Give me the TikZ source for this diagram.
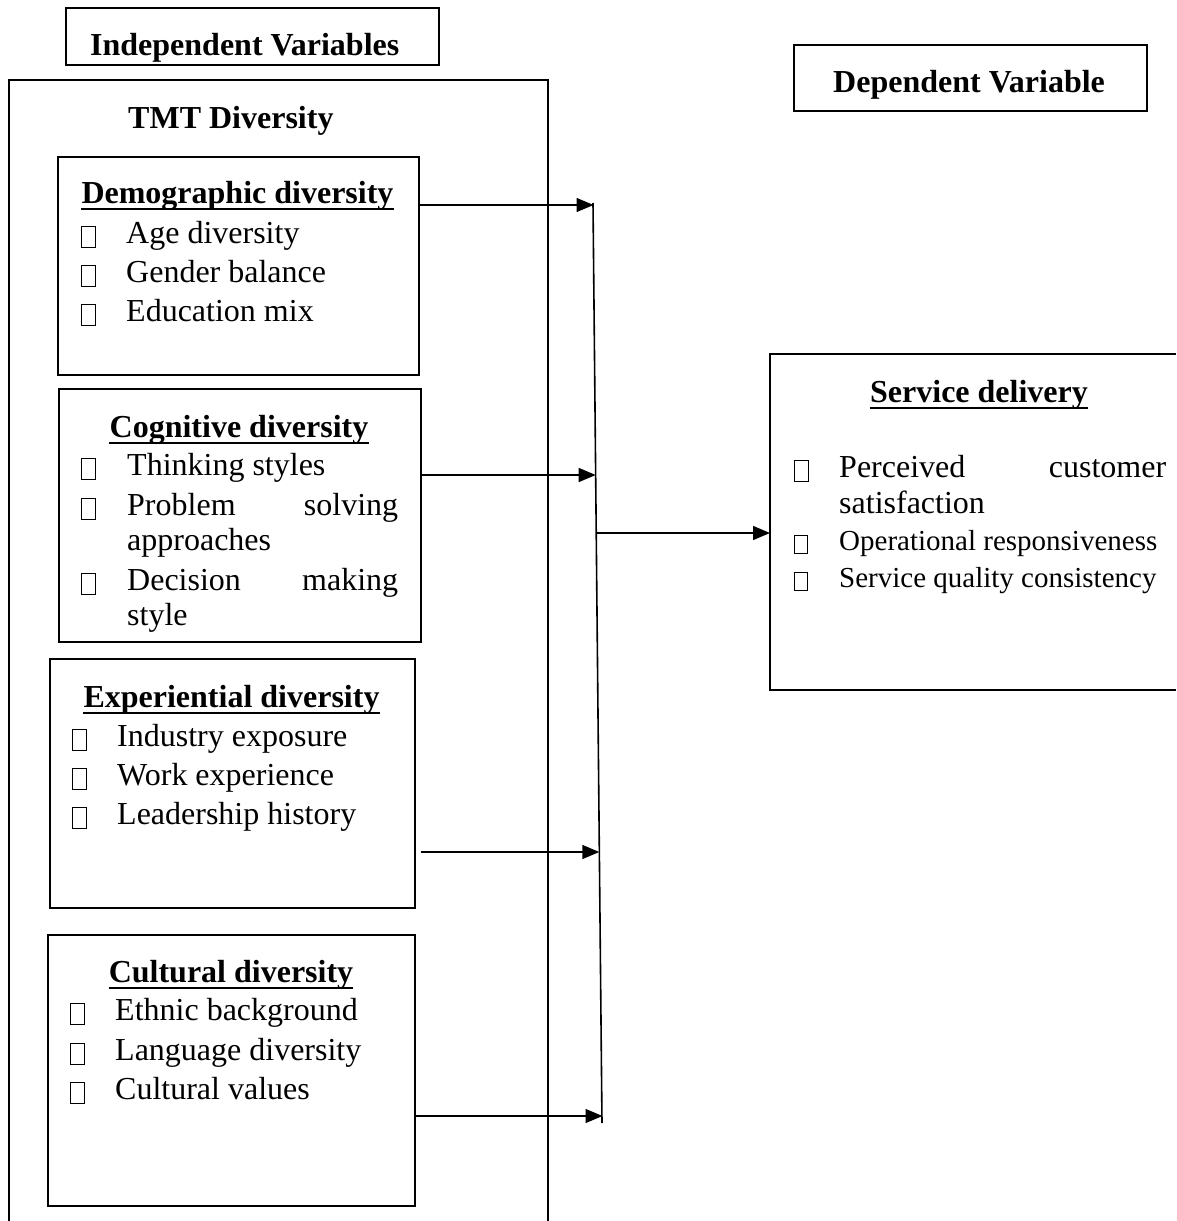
\documentclass[tikz,border=0pt]{standalone}
\usepackage{fontspec}
\setmainfont{Liberation Serif}
\usetikzlibrary{arrows.meta,calc}
\begin{document}
\begin{tikzpicture}[x=1pt,y=-1pt,
  box/.style={draw, line width=1.6pt, inner sep=0pt, anchor=north west},
  txt/.style={inner sep=0pt, anchor=base west, font=\fontsize{32pt}{38pt}\selectfont},
  small/.style={inner sep=0pt, anchor=base west, font=\fontsize{29pt}{35pt}\selectfont},
  head/.style={inner sep=0pt, anchor=base, font=\fontsize{32pt}{38pt}\selectfont\bfseries},
  ttl/.style={inner sep=0pt, anchor=base west, font=\fontsize{32pt}{38pt}\selectfont\bfseries},
  bul/.style={draw, line width=1.3pt, inner sep=0pt, minimum width=14pt, minimum height=21pt, anchor=south west},
  sbul/.style={draw, line width=1.3pt, inner sep=0pt, minimum width=13pt, minimum height=18pt, anchor=south west},
  arr/.style={line width=1.4pt, -{Triangle[length=17pt,width=14pt]}},
  uline/.style={line width=2.6pt},
  frame/.style={line width=1.6pt}
]
\useasboundingbox (0,0) rectangle (1176,1221);

% title boxes
\node[box, minimum width=373pt, minimum height=57pt] (indepbox) at (65,7) {};
\node[ttl] (indep) at (90,55) {Independent Variables};
\node[box, minimum width=353pt, minimum height=66pt] (depbox) at (793,44) {};
\node[ttl] (dep) at (833,92) {Dependent Variable};

% TMT frame (open at bottom)
\draw[frame] (9,1221) -- (9,80) -- (548,80) -- (548,1221);
\node[ttl] (tmt) at (128,128) {TMT Diversity};

% Demographic
\node[box, minimum width=361pt, minimum height=218pt] (demo) at (57,156) {};
\node[head] (demoh) at (237.5,203) {Demographic diversity};
\draw[uline] ([yshift=-6pt]demoh.base west) -- ([yshift=-6pt]demoh.base east);
\node[bul] (db1) at (81,248) {};
\node[txt] (d1) at (126,243) {Age diversity};
\node[bul] (db2) at (81,287) {};
\node[txt] (d2) at (126,282) {Gender balance};
\node[bul] (db3) at (81,326) {};
\node[txt] (d3) at (126,321) {Education mix};

% Cognitive
\node[box, minimum width=362pt, minimum height=253pt] (cogn) at (58,388) {};
\node[head] (cognh) at (239,437) {Cognitive diversity};
\draw[uline] ([yshift=-6pt]cognh.base west) -- ([yshift=-6pt]cognh.base east);
\node[bul] (cb1) at (81,480) {};
\node[txt] (c1t) at (127,475) {Thinking styles};
\node[bul] (cb2) at (81,520) {};
\node[txt] (c2t) at (127,515) {\hbox to 271pt{Problem\hfill solving}};
\node[txt] (c2u) at (127,550) {approaches};
\node[bul] (cb3) at (81,595) {};
\node[txt] (c3t) at (127,590) {\hbox to 271pt{Decision\hfill making}};
\node[txt] (c3u) at (127,625) {style};

% Experiential
\node[box, minimum width=365pt, minimum height=249pt] (expe) at (49,658) {};
\node[head] (expeh) at (231.5,707) {Experiential diversity};
\draw[uline] ([yshift=-6pt]expeh.base west) -- ([yshift=-6pt]expeh.base east);
\node[bul] (eb1) at (72,751) {};
\node[txt] (e1) at (117,746) {Industry exposure};
\node[bul] (eb2) at (72,790) {};
\node[txt] (e2) at (117,785) {Work experience};
\node[bul] (eb3) at (72,829) {};
\node[txt] (e3) at (117,824) {Leadership history};

% Cultural
\node[box, minimum width=367pt, minimum height=271pt] (cult) at (47,934) {};
\node[head] (culth) at (231,982) {Cultural diversity};
\draw[uline] ([yshift=-6pt]culth.base west) -- ([yshift=-6pt]culth.base east);
\node[bul] (ub1) at (70,1025) {};
\node[txt] (u1) at (115,1020) {Ethnic background};
\node[bul] (ub2) at (70,1065) {};
\node[txt] (u2) at (115,1060) {Language diversity};
\node[bul] (ub3) at (70,1104) {};
\node[txt] (u3) at (115,1099) {Cultural values};

% Service delivery (open on the right)
\draw[frame] (1176,354) -- (770,354) -- (770,690) -- (1176,690);
\node[head] (servh) at (979,402) {Service delivery};
\draw[uline] ([yshift=-6pt]servh.base west) -- ([yshift=-6pt]servh.base east);
\node[bul] (sb1) at (794,482) {};
\node[txt] (s1) at (839,477) {\hbox to 327pt{Perceived\hfill customer}};
\node[txt] (s1b) at (839,513) {satisfaction};
\node[sbul] (sb2) at (794,554) {};
\node[small] (s2) at (839,550) {Operational responsiveness};
\node[sbul] (sb3) at (794,591) {};
\node[small] (s3) at (839,587) {Service quality consistency};

% collector line and arrows
\coordinate (vtop) at (593,203);
\coordinate (vbot) at (602,1123);
\draw[frame] (vtop) -- (vbot);
\coordinate (t1) at (593.5,205);
\coordinate (t2) at (595.7,475);
\coordinate (t3) at (599.3,852);
\coordinate (t4) at (602.5,1116);
\coordinate (tout) at (596,533);
\coordinate (svcw) at (770,533);
\draw[arr] (t1 -| demo.east) -- (t1);
\draw[arr] (t2 -| cogn.east) -- (t2);
\draw[arr] ([xshift=5pt]t3 -| expe.east) -- (t3);
\draw[arr] (t4 -| cult.east) -- (t4);
\draw[arr] (tout) -- (svcw);
\end{tikzpicture}
\end{document}
